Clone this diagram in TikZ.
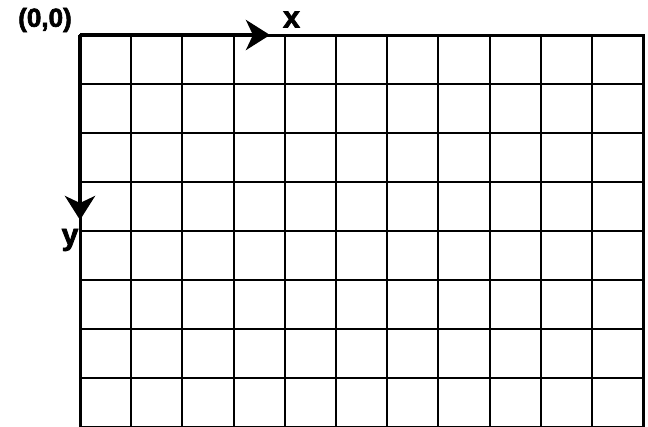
\documentclass[tikz,border=0pt]{standalone}
\usepackage{fontspec}
\setmainfont{Liberation Sans}
\newfontfamily\heavyfont[FakeBold=2.5]{Liberation Sans Bold}
\usetikzlibrary{arrows.meta}
\begin{document}
\begin{tikzpicture}[x=1pt,y=-1pt,
  gridline/.style={line width=2pt,black},
  frameline/.style={line width=3pt,black},
  axisline/.style={line width=4pt,black,-{Stealth[length=24pt,width=30pt,inset=7pt]}},
  lbl/.style={font=\fontsize{26}{26}\heavyfont,inner sep=0pt},
  axlbl/.style={font=\fontsize{30}{30}\heavyfont,inner sep=0pt}]
\clip (0,0) rectangle (648,426);
\useasboundingbox (0,0) rectangle (648,426);
% grid
\foreach \i in {1,...,10} {
  \draw[gridline] ({80+\i*51.2},35) -- ({80+\i*51.2},430);
}
\foreach \j in {1,...,8} {
  \draw[gridline] (80,{35+\j*49}) -- (643,{35+\j*49});
}
\coordinate (TL) at (80,35);
\coordinate (TR) at (643,35);
\coordinate (BR) at (643,430);
\coordinate (BL) at (80,430);
\draw[frameline] (BL) -- (TL) -- (TR) -- (BR);
% axes
\coordinate (xend) at (270,35);
\coordinate (yend) at (80,220);
\draw[axisline] (TL) -- (xend);
\draw[axisline] (TL) -- (yend);
\node[lbl] (origin) at (45,20) {(0,0)};
\node[axlbl] (xlab) at (291.5,19.5) {x};
\node[axlbl] (ylab) at (70,240) {y};
\end{tikzpicture}
\end{document}
